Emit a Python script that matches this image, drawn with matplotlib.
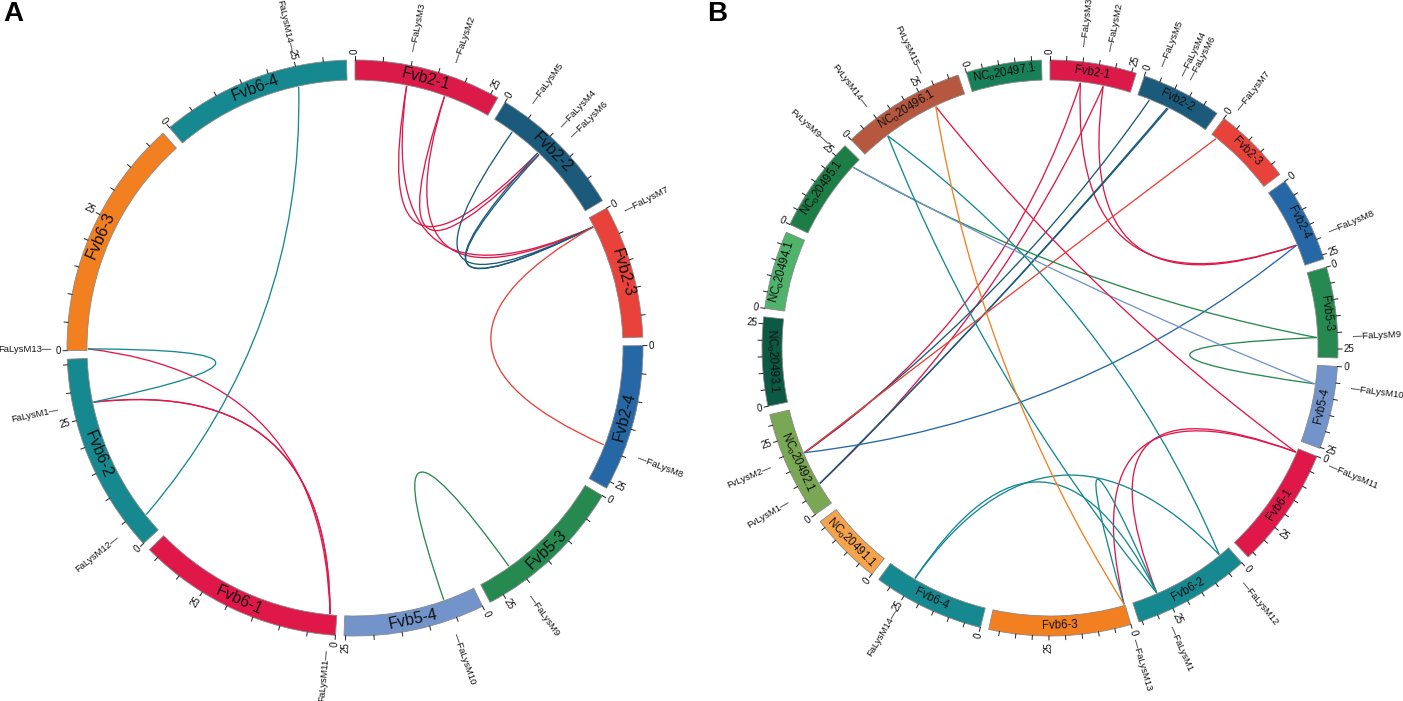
import numpy as np
import matplotlib.pyplot as plt
from matplotlib.patches import Wedge, PathPatch
from matplotlib.path import Path

plt.rcParams['font.family'] = ['Liberation Sans', 'DejaVu Sans']
plt.rcParams['mathtext.fontset'] = 'custom'
plt.rcParams['mathtext.rm'] = 'Liberation Sans'
plt.rcParams['mathtext.default'] = 'rm'

# chromosomes (length in Mb) and colours
fa_chroms = ['Fvb2-1', 'Fvb2-2', 'Fvb2-3', 'Fvb2-4', 'Fvb5-3', 'Fvb5-4',
             'Fvb6-1', 'Fvb6-2', 'Fvb6-3', 'Fvb6-4']
fa_lengths = [26.4, 24.7, 23.9, 26.3, 27.7, 25.3, 37.0, 36.0, 43.3, 34.1]
fa_colors = ['#dc1a4a', '#1c5a7b', '#e8423a', '#2667a6', '#268a50', '#7294cb',
             '#e0184a', '#168890', '#f28021', '#168890']

fv_chroms = ['NC_020491.1', 'NC_020492.1', 'NC_020493.1', 'NC_020494.1',
             'NC_020495.1', 'NC_020496.1', 'NC_020497.1']
fv_lengths = [22.3, 33.3, 27.1, 23.9, 29.1, 38.0, 23.0]
fv_colors = ['#f6a44c', '#7aa754', '#0c5a44', '#4fb36c', '#1c7e46', '#b5583f', '#178058']

# gene positions (chromosome, Mb)
gene_chrom = {'FaLysM1': 'Fvb6-2', 'FaLysM2': 'Fvb2-1', 'FaLysM3': 'Fvb2-1',
              'FaLysM4': 'Fvb2-2', 'FaLysM5': 'Fvb2-2', 'FaLysM6': 'Fvb2-2',
              'FaLysM7': 'Fvb2-3', 'FaLysM8': 'Fvb2-4', 'FaLysM9': 'Fvb5-3',
              'FaLysM10': 'Fvb5-4', 'FaLysM11': 'Fvb6-1', 'FaLysM12': 'Fvb6-2',
              'FaLysM13': 'Fvb6-3', 'FaLysM14': 'Fvb6-4',
              'FvLysM1': 'NC_020492.1', 'FvLysM2': 'NC_020492.1', 'FvLysM9': 'NC_020495.1',
              'FvLysM14': 'NC_020496.1', 'FvLysM15': 'NC_020496.1'}
gene_pos = {'FaLysM1': 27.6, 'FaLysM2': 17.4, 'FaLysM3': 9.9, 'FaLysM4': 10.4,
            'FaLysM5': 4.1, 'FaLysM6': 10.8, 'FaLysM7': 1.9, 'FaLysM8': 19.3,
            'FaLysM9': 21.3, 'FaLysM10': 6.1, 'FaLysM11': 1.3, 'FaLysM12': 3.7,
            'FaLysM13': 0.3, 'FaLysM14': 24.8,
            'FvLysM1': 7.4, 'FvLysM2': 18.6, 'FvLysM9': 26.0, 'FvLysM14': 9.5, 'FvLysM15': 27.8}
# label nudges (deg) for genes sitting on top of each other
label_nudge = {'FaLysM6': 2.2}

# segmental duplication pairs
links_a = [('FaLysM3', 'FaLysM7'), ('FaLysM2', 'FaLysM7'), ('FaLysM3', 'FaLysM4'),
           ('FaLysM2', 'FaLysM6'),
           ('FaLysM5', 'FaLysM7'), ('FaLysM4', 'FaLysM7'), ('FaLysM6', 'FaLysM7'),
           ('FaLysM7', 'FaLysM8'), ('FaLysM9', 'FaLysM10'),
           ('FaLysM11', 'FaLysM13'), ('FaLysM11', 'FaLysM1'), ('FaLysM11', 'FaLysM1'),
           ('FaLysM1', 'FaLysM13'), ('FaLysM12', 'FaLysM14')]
links_b = [('FaLysM3', 'FvLysM2'), ('FaLysM2', 'FvLysM1'), ('FaLysM3', 'FaLysM8'),
           ('FaLysM2', 'FaLysM8'),
           ('FaLysM5', 'FvLysM2'), ('FaLysM4', 'FvLysM1'), ('FaLysM6', 'FvLysM1'),
           ('FaLysM7', 'FvLysM2'), ('FaLysM8', 'FvLysM2'),
           ('FaLysM9', 'FvLysM9'), ('FaLysM9', 'FaLysM10'), ('FaLysM10', 'FvLysM9'),
           ('FaLysM11', 'FaLysM13'), ('FaLysM11', 'FaLysM1'), ('FaLysM11', 'FvLysM15'),
           ('FaLysM12', 'FvLysM14'), ('FaLysM1', 'FvLysM14'), ('FaLysM1', 'FaLysM13'),
           ('FaLysM12', 'FaLysM14'), ('FaLysM1', 'FaLysM14'),
           ('FaLysM13', 'FvLysM15')]


def pt(cx, cy, r, a):
    t = np.radians(a)
    return cx + r * np.sin(t), cy - r * np.cos(t)


def radial_text(ax, cx, cy, r, a, s, fs):
    a = a % 360
    x, y = pt(cx, cy, r, a)
    if a < 180:
        rot, ha = 90 - a, 'left'
    else:
        rot, ha = 270 - a, 'right'
    ax.text(x, y, s, rotation=rot, ha=ha, va='center', rotation_mode='anchor',
            fontsize=fs, color='#111111')


def draw_panel(ax, cx, cy, names, lengths, colors, links, chrom_fs, gap=1.7):
    R, W = 288, 20
    scale = (360 - gap * len(names)) / sum(lengths)
    start = {}
    col = {}
    a = 0.0
    for n, L, c in zip(names, lengths, colors):
        start[n] = a
        col[n] = c
        a1 = a + L * scale
        ax.add_patch(Wedge((cx, cy), R, a - 90, a1 - 90, width=W, facecolor=c,
                           edgecolor='#8a8a8a', linewidth=0.6))
        # ticks every 5 Mb, labels at 0 and 25
        for m in np.arange(0, L + 0.01, 5):
            am = a + m * scale
            x0, y0 = pt(cx, cy, R, am)
            x1, y1 = pt(cx, cy, R + 4, am)
            ax.plot([x0, x1], [y0, y1], color='#222222', lw=0.7)
            if m in (0, 25):
                radial_text(ax, cx, cy, R + 6, am, '%d' % m, 7)
        # chromosome name along the arc
        am = (a + a1) / 2
        xm, ym = pt(cx, cy, R - W / 2, am)
        rot = -am if (am < 90 or am > 270) else 180 - am
        label = n.replace('NC_0', r'NC$_0$')
        ax.text(xm, ym, label, rotation=rot, ha='center', va='center',
                rotation_mode='anchor', fontsize=chrom_fs, color='#111111')
        a = a1 + gap

    def gang(g):
        return start[gene_chrom[g]] + gene_pos[g] * scale

    shown = set(g for l in links for g in l)
    for g in shown:
        ag = gang(g) + label_nudge.get(g, 0) * (1 if len(names) < 12 else 0.7)
        s = '\u2014' + g if (ag % 360) < 180 else g + '\u2014'
        radial_text(ax, cx, cy, R + 15, ag, s, 6.8)

    rl = R - W - 1
    for g1, g2 in links:
        a1, a2 = gang(g1), gang(g2)
        sep = abs(a1 - a2)
        mid = (a1 + a2) / 2
        if sep > 180:
            sep = 360 - sep
            mid += 180
        rc = 10 + 0.38 * sep
        p0 = pt(cx, cy, rl, a1)
        p2 = pt(cx, cy, rl, a2)
        pc = pt(cx, cy, rc, mid)
        path = Path([p0, pc, p2], [Path.MOVETO, Path.CURVE3, Path.CURVE3])
        ax.add_patch(PathPatch(path, facecolor='none', edgecolor=col[gene_chrom[g1]],
                               lw=0.95))


fig = plt.figure(figsize=(14.03, 7.01), dpi=100)
ax = fig.add_axes([0, 0, 1, 1])
ax.set_xlim(0, 1403)
ax.set_ylim(701, 0)
ax.set_aspect('equal')
ax.axis('off')

draw_panel(ax, 355, 348, fa_chroms, fa_lengths, fa_colors, links_a, 11.5)
draw_panel(ax, 1050, 348, fa_chroms + fv_chroms, fa_lengths + fv_lengths,
           fa_colors + fv_colors, links_b, 8.3)

ax.text(3, 14, 'A', fontsize=20, fontweight='bold', ha='left', va='center')
ax.text(707, 14, 'B', fontsize=20, fontweight='bold', ha='left', va='center')

fig.savefig('out.png', dpi=100)
